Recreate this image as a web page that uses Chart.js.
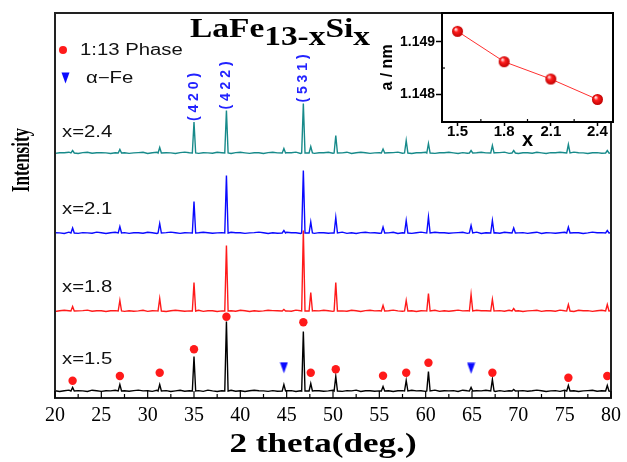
<!DOCTYPE html>
<html>
<head>
<meta charset="utf-8">
<script src="https://cdn.jsdelivr.net/npm/chart.js@4.4.0/dist/chart.umd.min.js"></script>
<style>
  html, body { margin: 0; padding: 0; background: #fff; }
  #wrap { position: relative; width: 627px; height: 462px; }
  #main { position: absolute; left: 0; top: 0; }
  #inset { position: absolute; left: 360px; top: 0; }
</style>
</head>
<body>
<div id="wrap">
  <canvas id="main" width="627" height="462"></canvas>
  <canvas id="inset" width="267" height="160"></canvas>
</div>
<script>
// ---- data ----
const compositions = ['x=1.5', 'x=1.8', 'x=2.1', 'x=2.4'];
const traceColors = ['#000000', '#ff1a1a', '#0a0aff', '#178a8a'];
const traceOffsets = [6.5, 86.5, 164.5, 244.5];

// reflections (2 theta, deg.)
const peakPositions = [21.9, 27.0, 31.3, 35.0, 38.5, 44.7, 46.8, 47.6, 50.3, 55.4, 57.9, 60.3, 64.9, 67.2, 69.5, 75.4, 79.6];
const peaksX15 = [3, 6, 6, 34, 69, 6, 59, 7, 14, 4, 10, 19, 3, 11, 1, 5, 5];
const peaksX18 = [4, 10, 12, 28, 65, 1, 80, 18, 28, 5, 10, 17, 16, 11, 2, 6, 6];
const peaksX21 = [4.5, 6, 9, 31, 57, 2, 62, 10.5, 15, 5.5, 12, 15.5, 7, 12, 4.5, 5.5, 2];
const peaksX24 = [2, 3, 5, 30.5, 42, 4, 49, 6, 17, 3.5, 12, 9, 2, 7, 2, 8, 2];

// background wiggle, one value every 0.5 deg from 20 to 80
const noiseX15 = [0.7,0,0.8,1.4,0.2,0.9,0.6,0,1.3,0.7, 0.1,0.8,0.6,1.2,0,0.7,0.3,0.9,1.4,0.6,
  0.8,0.1,1.3,0.7,0.9,0,0.6,1.2,0.2,0.8, 0.7,0.9,0.1,1.4,0.6,0,0.8,0.7,1.3,0.2,
  0.8,0,0.7,1.3,0.8,0.6,0.1,0.9,0.2,1.4, 0.7,0.9,0,0.8,1.2,0.1,0.7,0.8,0.2,0.6,
  1.3,0.7,0.1,0.9,0.6,1.4,0,0.8,0.7,0.2, 0.6,1.3,0.8,0,0.7,0.9,0.2,1.2,0.6,0.8,
  0.1,0.7,1.4,0.2,0.8,0.6,0.9,0,1.3,0.7, 0.2,0.8,0.6,1.2,0.7,0,0.9,0.1,0.8,1.3,
  0.6,0.9,0.2,0.7,1.4,0.8,0,0.6,0.9,0.1, 1.2,0.7,0.8,0,0.6,0.9,1.3,0.2,0.7,0.8, 0.3];
const noiseX18 = [0,0.7,1.3,0.8,0.1,0.6,0.9,1.4,0.2,0.7, 0.8,0,0.7,0.9,1.2,0.1,0.8,0.2,0.6,1.3,
  0.1,0.8,0.6,1.4,0,0.7,1.2,0.8,0.2,0.6, 0.9,1.3,0.1,0.7,0.8,0,0.6,1.4,0.7,0.2,
  1.3,0.7,0,0.8,0.2,0.6,1.2,0.9,0.7,0.1, 0.6,0.2,1.4,0.7,0.8,0,0.9,0.6,1.3,0.7,
  0.1,0.8,0.6,0.2,1.3,0.7,0,0.9,1.2,0.6, 0.8,0.1,0.7,1.4,0.6,0.2,1.3,0.8,0,0.7,
  0.6,0.9,1.2,0.1,0.7,0.2,0.8,1.4,0.6,0.9, 0,1.3,0.7,0.8,0.1,0.6,0.9,0.2,1.2,0.7,
  0.8,0,0.6,0.9,1.3,0.1,0.7,0.8,0.2,1.4, 0.7,0.6,0,1.2,0.8,0.9,0.1,0.7,1.3,0.2, 0.6];
const noiseX21 = [0.8,0.6,0,1.3,0.7,0.1,0.9,0.6,0.2,1.4, 0.7,0,0.8,1.2,0.6,0.9,0.1,0.7,0.8,0.2,
  1.3,0.7,0,0.6,0.9,1.4,0.7,0.1,0.8,0.6, 0,0.7,1.3,0.8,0.2,0.6,0.9,0,1.2,0.7,
  0.8,0.1,0.6,0.9,1.4,0.7,0,0.8,0.2,0.6, 1.3,0.8,0.7,0,0.6,1.2,0.1,0.9,0.7,0.2,
  0.6,0.8,1.4,0.1,0.7,0,0.9,1.3,0.6,0.8, 0.2,0.7,0.6,1.2,0,0.8,0.9,0.1,0.7,1.4,
  0.6,0,1.3,0.7,0.8,0.2,0.6,0.9,1.2,0.1, 0.7,1.4,0,0.8,0.6,0.7,0.2,1.3,0.8,0,
  0.6,0.9,0.1,0.7,1.3,0,0.8,0.6,0.2,0.7, 1.2,0.1,0.8,0.7,0,0.6,1.4,0.7,0.9,0.2, 0.7];
const noiseX24 = [0.1,0.7,0.8,1.3,0.6,0,0.9,1.2,0.2,0.7, 0.8,0.6,0,0.7,1.4,0.8,0.1,0.6,0.9,1.2,
  0,0.8,1.3,0.2,0.7,0.6,0,0.9,1.4,0.7, 0.8,0.1,0.7,0.6,0.2,1.3,0.8,0.7,0,0.9,
  1.2,0.6,0.1,0.8,0.7,0,0.9,1.3,0.6,0.2, 0.7,0.8,1.4,0,0.6,0.9,0.1,0.7,0.8,1.2,
  0.2,0.7,0.6,1.3,0,0.8,1.2,0.7,0.1,0.6, 0.8,0,0.7,0.9,1.4,0.2,0.6,0,0.8,0.7,
  1.3,0.6,0.1,0.8,0.7,1.2,0.6,0,0.9,0.2, 0.7,0.8,1.3,0.6,0,0.7,0.9,1.4,0.1,0.6,
  0,0.8,0.7,0.2,1.3,0.6,0,0.9,0.7,1.2, 0.8,0.1,1.4,0.7,0.6,0,0.8,0.9,0.2,0.7, 0.1];

// phase markers
const phaseX = [21.9, 27.0, 31.3, 35.0, 38.5, 46.8, 47.6, 50.3, 55.4, 57.9, 60.3, 67.2, 75.4, 79.6];
const phaseY = [17.3, 22, 25.3, 48.7, 81.3, 75.7, 25.3, 28.7, 22.3, 25.3, 35.3, 25.3, 20.3, 22];
const alphaFeX = [44.7, 64.9];
const alphaFeY = [30.3, 29.7];

const hklLabels = ['( 4 2 0 )', '( 4 2 2 )', '( 5 3 1 )'];
const hklX = [35.0, 38.5, 46.8];

// inset: lattice parameter
const insetX = [1.5, 1.8, 2.1, 2.4];
const latticeA = [1.14920, 1.14862, 1.14829, 1.14790];
const insetYTicks = [1.148, 1.149];

// ---- helpers ----
function buildPattern(noise, heights, offset) {
  const pts = [];
  noise.forEach((n, i) => {
    const t = 20 + i * 0.5;
    if (peakPositions.some(p => Math.abs(p - t) < 0.25)) return;
    pts.push({ x: t, y: offset + n });
  });
  peakPositions.forEach((p, k) => {
    pts.push({ x: p - 0.18, y: offset + 0.5 }, { x: p, y: offset + 1 + heights[k] }, { x: p + 0.18, y: offset + 0.5 });
  });
  return pts.sort((a, b) => a.x - b.x);
}

function triangleImage(color) {
  const c = document.createElement('canvas');
  c.width = 9; c.height = 12;
  const g = c.getContext('2d');
  g.fillStyle = color;
  g.beginPath(); g.moveTo(0.5, 0.5); g.lineTo(8.5, 0.5); g.lineTo(4.5, 11.5); g.closePath(); g.fill();
  return c;
}

function sphereImage(r) {
  const c = document.createElement('canvas');
  c.width = c.height = 2 * r + 2;
  const g = c.getContext('2d');
  const grad = g.createRadialGradient(r + 1 - r * 0.35, r + 1 - r * 0.4, r * 0.1, r + 1, r + 1, r);
  grad.addColorStop(0, '#ffe0e0');
  grad.addColorStop(0.35, '#ff2020');
  grad.addColorStop(1, '#c00000');
  g.fillStyle = grad;
  g.beginPath(); g.arc(r + 1, r + 1, r, 0, Math.PI * 2); g.fill();
  return c;
}

function wideText(ctx, text, x, y, sx) {
  ctx.save();
  ctx.translate(x, y);
  ctx.scale(sx, 1);
  ctx.fillText(text, 0, 0);
  ctx.restore();
}

const feTriangle = triangleImage('#0a0aff');
const allPeaks = [peaksX15, peaksX18, peaksX21, peaksX24];
const allNoise = [noiseX15, noiseX18, noiseX21, noiseX24];

// ---- main chart decorations ----
const decorate = {
  id: 'decorate',
  afterDatasetsDraw(chart) {
    const { ctx, chartArea: a, scales: { x, y } } = chart;
    ctx.save();
    ctx.strokeStyle = '#222';
    ctx.lineWidth = 2;
    ctx.strokeRect(a.left, a.top, a.right - a.left, a.bottom - a.top);

    // inward ticks on bottom axis
    ctx.strokeStyle = '#000';
    ctx.lineWidth = 1.2;
    for (let v = 20; v <= 80; v += 2.5) {
      const px = x.getPixelForValue(v);
      const len = v % 5 === 0 ? 7 : 4;
      ctx.beginPath(); ctx.moveTo(px, a.bottom); ctx.lineTo(px, a.bottom - len); ctx.stroke();
    }

    ctx.fillStyle = '#000';
    ctx.textAlign = 'left';

    // title
    ctx.font = 'bold 28px "Liberation Serif"';
    ctx.textBaseline = 'alphabetic';
    const parts = [['LaFe', 0], ['13-x', 8], ['Si', 0], ['x', 8]];
    const natural = parts.reduce((s, p) => s + ctx.measureText(p[0]).width, 0);
    ctx.save();
    ctx.translate(190, 37);
    ctx.scale(180 / natural, 1);
    let cx = 0;
    parts.forEach(([t, dy]) => { ctx.fillText(t, cx, dy); cx += ctx.measureText(t).width; });
    ctx.restore();

    // legend
    ctx.fillStyle = '#ff1a1a';
    ctx.beginPath(); ctx.arc(63, 50, 4, 0, Math.PI * 2); ctx.fill();
    ctx.drawImage(feTriangle, 61, 72);
    ctx.fillStyle = '#111';
    ctx.font = '16px "Liberation Sans"';
    ctx.textBaseline = 'middle';
    wideText(ctx, '1:13 Phase', 80, 51, 1.27);
    wideText(ctx, 'α−Fe', 86, 79, 1.27);

    // composition labels
    const labelY = [360, 288, 210, 133];
    compositions.forEach((c, i) => wideText(ctx, c, 62, labelY[i], 1.27));

    // hkl labels above the x=2.4 pattern
    ctx.fillStyle = '#2323ff';
    ctx.font = 'bold 14px "Liberation Sans"';
    ctx.textAlign = 'center';
    hklLabels.forEach((lab, i) => {
      const k = peakPositions.indexOf(hklX[i]);
      const top = y.getPixelForValue(traceOffsets[3] + 1 + peaksX24[k]);
      ctx.save();
      ctx.translate(x.getPixelForValue(hklX[i]), top - 25);
      ctx.rotate(-Math.PI / 2);
      ctx.fillText(lab, 0, 0);
      ctx.restore();
    });

    // axis titles
    ctx.fillStyle = '#000';
    ctx.font = 'bold 25px "Liberation Serif"';
    ctx.textBaseline = 'alphabetic';
    ctx.save();
    ctx.translate(29, 160);
    ctx.rotate(-Math.PI / 2);
    ctx.scale(0.68, 1);
    ctx.fillText('Intensity', 0, 0);
    ctx.restore();

    ctx.font = 'bold 27px "Liberation Serif"';
    wideText(ctx, '2 theta(deg.)', 323, 452, 1.3);
    ctx.restore();
  }
};

new Chart(document.getElementById('main'), {
  type: 'line',
  data: {
    datasets: [
      {
        data: phaseX.map((v, i) => ({ x: v, y: phaseY[i] })),
        showLine: false, pointStyle: 'circle', pointRadius: 4.2,
        pointBackgroundColor: '#ff1a1a', pointBorderWidth: 0
      },
      {
        data: alphaFeX.map((v, i) => ({ x: v, y: alphaFeY[i] })),
        showLine: false, pointStyle: feTriangle, pointRadius: 5
      },
      ...compositions.map((c, i) => ({
        label: c,
        data: buildPattern(allNoise[i], allPeaks[i], traceOffsets[i]),
        borderColor: traceColors[i],
        borderWidth: 1.4,
        pointRadius: 0,
        tension: 0
      }))
    ]
  },
  options: {
    responsive: false,
    animation: false,
    events: [],
    layout: { padding: { left: 55, right: 14, top: 13, bottom: 0 } },
    plugins: { legend: { display: false }, tooltip: { enabled: false } },
    scales: {
      x: {
        type: 'linear', min: 20, max: 80,
        ticks: { stepSize: 5, maxRotation: 0, color: '#000', padding: 6, font: { family: 'Liberation Serif', size: 20 } },
        grid: { display: false, drawTicks: false },
        border: { display: false },
        afterFit: s => { s.height = 64; }
      },
      y: { display: false, min: 0, max: 385 }
    }
  },
  plugins: [decorate]
});

// ---- inset ----
const insetFrame = {
  id: 'insetFrame',
  beforeDraw(chart) {
    const { ctx, chartArea: a } = chart;
    ctx.save();
    ctx.fillStyle = '#fff';
    ctx.fillRect(a.left, a.top, a.right - a.left, a.bottom - a.top);
    ctx.restore();
  },
  afterDraw(chart) {
    const { ctx, chartArea: a, scales: { x, y } } = chart;
    ctx.save();
    ctx.strokeStyle = '#000';
    ctx.lineWidth = 2;
    ctx.strokeRect(a.left, a.top, a.right - a.left, a.bottom - a.top);
    ctx.lineWidth = 1.2;
    [1.65, 1.95, 2.25].forEach(v => {
      const px = x.getPixelForValue(v);
      ctx.beginPath(); ctx.moveTo(px, a.bottom); ctx.lineTo(px, a.bottom - 3); ctx.stroke();
    });
    const py = y.getPixelForValue(1.1485);
    ctx.beginPath(); ctx.moveTo(a.left, py); ctx.lineTo(a.left + 3, py); ctx.stroke();
    ctx.restore();
  }
};

const boldSans = size => ({ family: 'Liberation Sans', size, weight: 'bold' });

new Chart(document.getElementById('inset'), {
  type: 'line',
  data: {
    datasets: [{
      data: insetX.map((v, i) => ({ x: v, y: latticeA[i] })),
      borderColor: '#ff3030',
      borderWidth: 1,
      pointStyle: sphereImage(5.5),
      pointRadius: 5.5,
      tension: 0
    }]
  },
  options: {
    responsive: false,
    animation: false,
    events: [],
    layout: { padding: { left: 0, right: 14, top: 13, bottom: 0 } },
    plugins: { legend: { display: false }, tooltip: { enabled: false } },
    scales: {
      x: {
        type: 'linear', min: 1.4, max: 2.5,
        afterBuildTicks: s => { s.ticks = insetX.map(v => ({ value: v })); },
        ticks: { color: '#000', padding: -3, maxRotation: 0, font: boldSans(15), callback: v => v.toFixed(1) },
        grid: { drawOnChartArea: false, tickLength: 4, tickColor: '#000', tickWidth: 1.5 },
        border: { display: false },
        title: { display: true, text: 'x', color: '#000', font: boldSans(20), padding: { top: 0, bottom: 8 } },
        afterFit: s => { s.height = 38; }
      },
      y: {
        min: 1.14747, max: 1.14955,
        afterBuildTicks: s => { s.ticks = insetYTicks.map(v => ({ value: v })); },
        ticks: { color: '#000', padding: 1, font: boldSans(14), callback: v => v.toFixed(3) },
        grid: { drawOnChartArea: false, tickLength: 6, tickColor: '#000', tickWidth: 1.5 },
        border: { display: false },
        title: { display: true, text: 'a / nm', color: '#000', font: boldSans(16), padding: { top: 18, bottom: 0 } },
        afterFit: s => { s.width = 82; }
      }
    }
  },
  plugins: [insetFrame]
});
</script>
</body>
</html>
